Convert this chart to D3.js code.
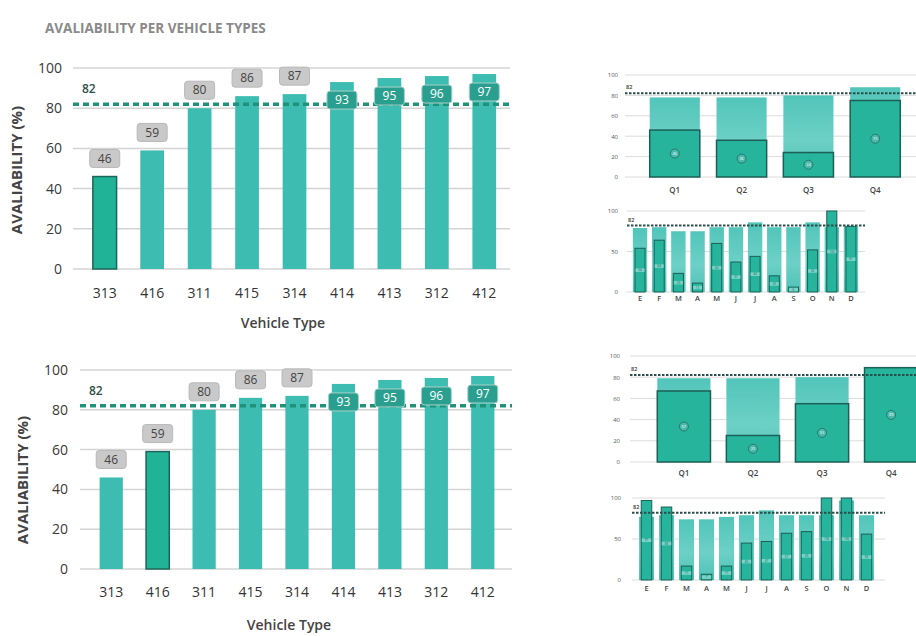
<!DOCTYPE html>
<html>
<head>
<meta charset="utf-8">
<script src="https://cdn.jsdelivr.net/npm/d3@7"></script>
<style>
  body { margin: 0; background: #fff; }
  svg text { font-family: "Open Sans", "Noto Sans", sans-serif; }
</style>
</head>
<body>
<svg id="chart" width="916" height="636"></svg>
<script>
// ---- data ----
const vehicleTypes = ["313", "416", "311", "415", "314", "414", "413", "312", "412"];
const availabilityTop = [46, 59, 80, 86, 87, 93, 95, 96, 97];
const availabilityBottom = [46, 59, 80, 86, 87, 93, 95, 96, 97];
const highlightTop = "313";
const highlightBottom = "416";
const targetValue = 82;
const mainTicks = [0, 20, 40, 60, 80, 100];

const quarters = ["Q1", "Q2", "Q3", "Q4"];
const quarterPlannedTop = [78, 78, 80, 88];
const quarterActualTop = [46, 36, 24, 75];
const quarterPlannedBottom = [79, 79, 80, 89];
const quarterActualBottom = [67, 25, 55, 89];
const quarterTicks = [0, 20, 40, 60, 80, 100];

const months = ["E", "F", "M", "A", "M", "J", "J", "A", "S", "O", "N", "D"];
const monthPlannedTop = [79, 80, 75, 75, 80, 80, 86, 80, 80, 86, 80, 81];
const monthActualTop = [54, 64, 23, 11, 60, 37, 44, 20, 6, 52, 100, 81];
const monthPlannedBottom = [77, 79, 74, 74, 77, 79, 85, 79, 79, 79, 97, 79];
const monthActualBottom = [97, 89, 17, 7, 17, 45, 47, 57, 59, 100, 100, 56];
const monthTicks = [0, 50, 100];

const svg = d3.select("#chart");

const COLORS = {
  bar: "#3dbdb1",
  barHi: "#20b398",
  barHiStroke: "#1b6658",
  target: "#1f9279",
  grid: "#d4d4d4",
  labelBox: "#c9c9c9",
  labelText: "#444",
  innerBox: "#2a9f90",
  actual: "#26b49d",
  actualStroke: "#1b5f55"
};

// gradient for the planned (background) bars of the small charts
const defs = svg.append("defs");
const grad = defs.append("linearGradient").attr("id", "plannedGrad")
  .attr("x1", 0).attr("y1", 0).attr("x2", 0).attr("y2", 1);
grad.append("stop").attr("offset", "0%").attr("stop-color", "#52c5ba");
grad.append("stop").attr("offset", "55%").attr("stop-color", "#6dd0c6");
grad.append("stop").attr("offset", "100%").attr("stop-color", "#4fc2b6");

svg.append("text")
  .attr("x", 45).attr("y", 33)
  .attr("font-size", 13.5).attr("font-weight", 700)
  .attr("fill", "#8a8a8a")
  .text("AVALIABILITY PER VEHICLE TYPES");

// ---- main bar chart ----
function drawMain(cfg) {
  const g = svg.append("g");
  const x = d3.scaleBand().domain(vehicleTypes).range(cfg.xRange)
    .paddingInner(0.5).paddingOuter(0.25);
  const y = d3.scaleLinear().domain([0, 100]).range(cfg.yRange);

  // gridlines
  g.selectAll(".grid").data(mainTicks).join("line")
    .attr("x1", cfg.gridX[0]).attr("x2", cfg.gridX[1])
    .attr("y1", d => y(d)).attr("y2", d => y(d))
    .attr("stroke", COLORS.grid).attr("stroke-width", 1.5);

  // y axis labels
  const ya = g.append("g").attr("transform", `translate(${cfg.gridX[0]},0)`)
    .call(d3.axisLeft(y).tickValues(mainTicks).tickSize(0).tickPadding(cfg.tickPad));
  ya.select(".domain").remove();
  ya.selectAll("text").attr("font-size", 14).attr("fill", "#3a3a3a")
    .style("font-family", '"Open Sans", sans-serif');

  // bars
  const data = vehicleTypes.map((t, i) => ({ t, v: cfg.values[i] }));
  g.selectAll(".bar").data(data).join("rect")
    .attr("x", d => x(d.t)).attr("width", x.bandwidth())
    .attr("y", d => y(d.v)).attr("height", d => y(0) - y(d.v))
    .attr("fill", d => d.t === cfg.highlight ? COLORS.barHi : COLORS.bar)
    .attr("stroke", d => d.t === cfg.highlight ? COLORS.barHiStroke : "none")
    .attr("stroke-width", 1.5);

  // target line
  g.append("line")
    .attr("x1", cfg.gridX[0]).attr("x2", cfg.gridX[1])
    .attr("y1", y(targetValue)).attr("y2", y(targetValue))
    .attr("stroke", COLORS.target).attr("stroke-width", 3.5)
    .attr("stroke-dasharray", "6,4");
  g.append("text")
    .attr("x", cfg.gridX[0] + 9).attr("y", y(targetValue) - 11)
    .attr("font-size", 12).attr("font-weight", 600).attr("fill", "#2c4f49")
    .text(targetValue);

  // value labels: grey box above shorter bars, teal box inside tall bars
  const lbl = g.selectAll(".lbl").data(data).join("g")
    .attr("transform", d => {
      const cx = x(d.t) + x.bandwidth() / 2;
      const cy = d.v > 90 ? y(d.v) + 18 : y(d.v) - 18;
      return `translate(${cx},${cy})`;
    });
  lbl.append("rect")
    .attr("x", -15).attr("y", -9).attr("width", 30).attr("height", 18).attr("rx", 3)
    .attr("fill", d => d.v > 90 ? COLORS.innerBox : COLORS.labelBox)
    .attr("stroke", d => d.v > 90 ? "#a9cfc9" : "#b8b8b8")
    .attr("stroke-width", 1);
  lbl.append("text")
    .attr("text-anchor", "middle").attr("dy", "0.35em")
    .attr("font-size", 12)
    .attr("fill", d => d.v > 90 ? "#fff" : COLORS.labelText)
    .text(d => d.v);

  // x axis labels
  const xa = g.append("g").attr("transform", `translate(0,${cfg.xLabelY})`)
    .call(d3.axisBottom(x).tickSize(0).tickPadding(0));
  xa.select(".domain").remove();
  xa.selectAll("text").attr("font-size", 14).attr("fill", "#333")
    .attr("dy", "0.35em")
    .style("font-family", '"Open Sans", sans-serif');

  g.append("text")
    .attr("x", cfg.xTitle[0]).attr("y", cfg.xTitle[1])
    .attr("text-anchor", "middle").attr("font-size", 14).attr("font-weight", 600)
    .attr("fill", "#444").text("Vehicle Type");

  g.append("text")
    .attr("transform", `translate(${cfg.yTitle[0]},${cfg.yTitle[1]}) rotate(-90)`)
    .attr("text-anchor", "middle").attr("font-size", 15).attr("font-weight", 700)
    .attr("fill", "#444").text("AVALIABILITY (%)");
}

drawMain({
  values: availabilityTop, highlight: highlightTop,
  xRange: [81, 508], yRange: [269, 68], gridX: [73, 510], tickPad: 11,
  xLabelY: 293, xTitle: [283, 328], yTitle: [22, 170]
});
drawMain({
  values: availabilityBottom, highlight: highlightBottom,
  xRange: [88, 506], yRange: [569, 370], gridX: [80, 512], tickPad: 12,
  xLabelY: 592, xTitle: [289, 630], yTitle: [28, 480]
});

// ---- small planned vs actual charts ----
function drawSmall(cfg) {
  const g = svg.append("g");
  const idx = cfg.labels.map((_, i) => i);
  const x = d3.scaleBand().domain(idx).range(cfg.xRange)
    .paddingInner(cfg.padInner).paddingOuter(cfg.padOuter);
  const y = d3.scaleLinear().domain([0, 100]).range(cfg.yRange);

  g.selectAll(".grid").data(cfg.ticks).join("line")
    .attr("x1", cfg.gridX[0]).attr("x2", cfg.gridX[1])
    .attr("y1", d => y(d)).attr("y2", d => y(d))
    .attr("stroke", "#dcdcdc").attr("stroke-width", 1);

  const ya = g.append("g").attr("transform", `translate(${cfg.gridX[0]},0)`)
    .call(d3.axisLeft(y).tickValues(cfg.ticks).tickSize(0).tickPadding(cfg.tickPad));
  ya.select(".domain").remove();
  ya.selectAll("text").attr("font-size", 6).attr("fill", "#555")
    .style("font-family", '"Open Sans", sans-serif');

  const data = idx.map(i => ({ i, p: cfg.planned[i], a: cfg.actual[i] }));
  const bw = x.bandwidth();
  const aw = bw * cfg.actualWidth;

  g.selectAll(".planned").data(data).join("rect")
    .attr("x", d => x(d.i)).attr("width", bw)
    .attr("y", d => y(d.p)).attr("height", d => y(0) - y(d.p))
    .attr("fill", "url(#plannedGrad)");

  g.selectAll(".actual").data(data).join("rect")
    .attr("x", d => x(d.i) + (bw - aw) / 2).attr("width", aw)
    .attr("y", d => y(d.a)).attr("height", d => y(0) - y(d.a))
    .attr("fill", COLORS.actual).attr("stroke", COLORS.actualStroke)
    .attr("stroke-width", cfg.strokeW);

  // value markers at mid height of the actual bars
  const mk = g.selectAll(".mk").data(data).join("g")
    .attr("transform", d => `translate(${x(d.i) + bw / 2},${(y(d.a) + y(0)) / 2})`);
  if (cfg.circles) {
    mk.append("circle").attr("r", 4.5)
      .attr("fill", "#48b9ab").attr("stroke", "#24685e").attr("stroke-width", 0.8);
    mk.append("text").attr("text-anchor", "middle").attr("dy", "0.35em")
      .attr("font-size", 3.8).attr("fill", "#fff").text(d => d.a);
  } else {
    mk.append("rect").attr("x", -aw / 2 + 0.5).attr("y", -1.8).attr("width", aw - 1).attr("height", 3.6)
      .attr("fill", "#8fdcd2").attr("opacity", 0.8);
    mk.append("text").attr("text-anchor", "middle").attr("dy", "0.35em")
      .attr("font-size", 3).attr("fill", "#1b5f55").text(d => d.a);
  }

  g.append("line")
    .attr("x1", cfg.gridX[0]).attr("x2", cfg.gridX[1])
    .attr("y1", y(targetValue)).attr("y2", y(targetValue))
    .attr("stroke", "#2a4f4a").attr("stroke-width", 2)
    .attr("stroke-dasharray", "2.5,1.5");
  g.append("text")
    .attr("x", cfg.gridX[0] + 1).attr("y", y(targetValue) - 4)
    .attr("font-size", 5.5).attr("font-weight", 600).attr("fill", "#333")
    .text(targetValue);

  const xa = g.append("g").attr("transform", `translate(0,${cfg.xLabelY})`)
    .call(d3.axisBottom(x).tickSize(0).tickPadding(0).tickFormat(i => cfg.labels[i]));
  xa.select(".domain").remove();
  xa.selectAll("text").attr("font-size", cfg.labelSize).attr("fill", "#444")
    .attr("font-weight", 600).attr("dy", "0.35em")
    .style("font-family", '"Open Sans", sans-serif');
}

drawSmall({
  labels: quarters, planned: quarterPlannedTop, actual: quarterActualTop, ticks: quarterTicks,
  xRange: [633, 917], padInner: 0.25, padOuter: 0.25, yRange: [177, 75],
  gridX: [625, 916], tickPad: 7, xLabelY: 190, labelSize: 8,
  actualWidth: 1, strokeW: 1.5, circles: true
});
drawSmall({
  labels: months, planned: monthPlannedTop, actual: monthActualTop, ticks: monthTicks,
  xRange: [629, 862], padInner: 0.25, padOuter: 0.2, yRange: [292, 211],
  gridX: [627, 865], tickPad: 9, xLabelY: 298, labelSize: 7.5,
  actualWidth: 0.7, strokeW: 1, circles: false
});
drawSmall({
  labels: quarters, planned: quarterPlannedBottom, actual: quarterActualBottom, ticks: quarterTicks,
  xRange: [640, 935], padInner: 0.23, padOuter: 0.25, yRange: [462, 356],
  gridX: [630, 916], tickPad: 10, xLabelY: 473, labelSize: 8,
  actualWidth: 1, strokeW: 1.5, circles: true
});
drawSmall({
  labels: months, planned: monthPlannedBottom, actual: monthActualBottom, ticks: monthTicks,
  xRange: [635, 878], padInner: 0.25, padOuter: 0.2, yRange: [580, 498],
  gridX: [632, 885], tickPad: 11, xLabelY: 588, labelSize: 7.5,
  actualWidth: 0.7, strokeW: 1, circles: false
});
</script>
</body>
</html>
